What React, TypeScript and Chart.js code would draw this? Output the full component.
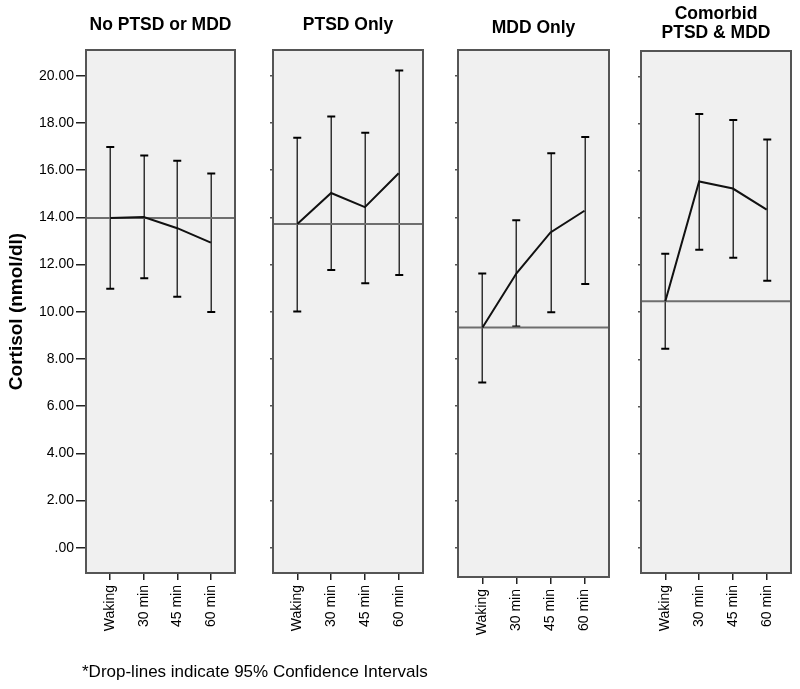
import React, { useEffect, useRef } from 'react';
import { Chart, registerables } from 'chart.js';

Chart.register(...registerables);

// ---------- data ----------
const timepoints = ['Waking', '30 min', '45 min', '60 min'];
const groupTitles = [['No PTSD or MDD'], ['PTSD Only'], ['MDD Only'], ['Comorbid', 'PTSD & MDD']];
const yTickValues = [0, 2, 4, 6, 8, 10, 12, 14, 16, 18, 20];
const yAxisTitle = 'Cortisol (nmol/dl)';
const footnote = '*Drop-lines indicate 95% Confidence Intervals';

const noneMean = [13.97, 14.01, 13.54, 12.93];
const noneLower = [10.97, 11.42, 10.64, 9.99];
const noneUpper = [16.98, 16.62, 16.4, 15.86];

const ptsdMean = [13.72, 15.03, 14.43, 15.87];
const ptsdLower = [10.01, 11.77, 11.21, 11.56];
const ptsdUpper = [17.37, 18.27, 17.58, 20.22];

const mddMean = [9.33, 11.63, 13.36, 14.28];
const mddLower = [7.0, 9.37, 9.98, 11.18];
const mddUpper = [11.62, 13.88, 16.72, 17.4];

const comMean = [10.47, 15.55, 15.25, 14.36];
const comLower = [8.45, 12.65, 12.31, 11.34];
const comUpper = [12.48, 18.42, 18.16, 17.33];

// ---------- layout ----------
const FONT = '"Liberation Sans", Arial, Helvetica, sans-serif';
const H = 689;
const X_MIN = -0.72;
const X_MAX = 3.72;
const Y_MAX = 21.09;

const panelLayouts = [
  { canvasLeft: 0, sideWidth: 86, plotWidth: 149, plotBottom: 573, yMin: -1.07, titlePad: { top: 14.5, bottom: 14.5 }, lineHeight: 21 },
  { canvasLeft: 269, sideWidth: 4, plotWidth: 150, plotBottom: 573, yMin: -1.07, titlePad: { top: 15, bottom: 14 }, lineHeight: 21 },
  { canvasLeft: 454, sideWidth: 4, plotWidth: 151, plotBottom: 577, yMin: -1.24, titlePad: { top: 17.5, bottom: 11.5 }, lineHeight: 21 },
  { canvasLeft: 637, sideWidth: 4, plotWidth: 150, plotBottom: 573, yMin: -1.07, titlePad: { top: 5.25, bottom: 8.75 }, lineHeight: 18.5 },
];

type PanelProps = { index: number; means: number[]; lower: number[]; upper: number[] };

function Panel({ index, means, lower, upper }: PanelProps) {
  const ref = useRef<HTMLCanvasElement>(null);
  const L = panelLayouts[index];
  const W = L.plotWidth + 2 * L.sideWidth;

  useEffect(() => {
    const canvas = ref.current!;
    const isFirst = index === 0;

    const panelBox = {
      id: 'panelBox',
      beforeDraw(chart: any) {
        const { ctx, chartArea: a } = chart;
        ctx.save();
        ctx.fillStyle = '#f0f0f0';
        ctx.fillRect(a.left, a.top, a.right - a.left, a.bottom - a.top);
        ctx.restore();
      },
      afterDraw(chart: any) {
        const { ctx, chartArea: a } = chart;
        ctx.save();
        ctx.strokeStyle = '#555555';
        ctx.lineWidth = 2;
        ctx.strokeRect(a.left, a.top, a.right - a.left, a.bottom - a.top);
        ctx.restore();
      },
    };

    const errorBars = {
      id: 'errorBars',
      beforeDatasetsDraw(chart: any) {
        const { ctx, scales } = chart;
        const x = scales.x;
        const y = scales.y;
        ctx.save();
        for (let i = 0; i < means.length; i++) {
          const px = Math.round(x.getPixelForValue(i)) + 0.25;
          const pTop = y.getPixelForValue(upper[i]);
          const pBot = y.getPixelForValue(lower[i]);
          ctx.strokeStyle = '#333333';
          ctx.lineWidth = 1.5;
          ctx.beginPath();
          ctx.moveTo(px, pTop);
          ctx.lineTo(px, pBot);
          ctx.stroke();
          ctx.strokeStyle = '#000000';
          ctx.lineWidth = 2;
          ctx.beginPath();
          ctx.moveTo(px - 4, pTop);
          ctx.lineTo(px + 4, pTop);
          ctx.moveTo(px - 4, pBot);
          ctx.lineTo(px + 4, pBot);
          ctx.stroke();
        }
        ctx.restore();
      },
    };

    const chart = new Chart(canvas, {
      type: 'line',
      data: {
        datasets: [
          {
            data: means.map((v, i) => ({ x: i, y: v })),
            borderColor: '#111111',
            borderWidth: 2,
            pointRadius: 0,
            tension: 0,
            fill: false,
          },
          {
            data: [
              { x: X_MIN, y: means[0] },
              { x: X_MAX, y: means[0] },
            ],
            borderColor: '#6e6e6e',
            borderWidth: 2,
            pointRadius: 0,
            fill: false,
          },
        ],
      },
      options: {
        animation: false,
        responsive: false,
        devicePixelRatio: 1,
        layout: { padding: 0 },
        plugins: {
          legend: { display: false },
          tooltip: { enabled: false },
          title: {
            display: true,
            text: groupTitles[index],
            color: '#000000',
            font: { family: FONT, size: 17.5, weight: 'bold', lineHeight: L.lineHeight / 17.5 },
            padding: L.titlePad,
          },
        },
        scales: {
          x: {
            type: 'linear',
            position: 'bottom',
            min: X_MIN,
            max: X_MAX,
            bounds: 'data',
            afterBuildTicks: (s: any) => {
              s.ticks = timepoints.map((_, i) => ({ value: i }));
            },
            afterFit: (s: any) => {
              s.height = H - L.plotBottom;
            },
            ticks: {
              callback: (v: any) => timepoints[v],
              autoSkip: false,
              minRotation: 90,
              maxRotation: 90,
              color: '#000000',
              font: { family: FONT, size: 14 },
              padding: 5,
            },
            grid: { drawOnChartArea: false, tickLength: 7, color: '#222222', lineWidth: 1.5 },
            border: { display: false },
          },
          y: {
            type: 'linear',
            position: 'left',
            min: L.yMin,
            max: Y_MAX,
            bounds: 'data',
            afterBuildTicks: (s: any) => {
              s.ticks = yTickValues.map((v) => ({ value: v }));
            },
            afterFit: (s: any) => {
              s.width = L.sideWidth;
            },
            ticks: {
              display: isFirst,
              callback: (v: any) => (v === 0 ? '.00' : Number(v).toFixed(2)),
              color: '#000000',
              font: { family: FONT, size: 14 },
              padding: 2,
            },
            grid: {
              drawOnChartArea: false,
              tickLength: isFirst ? 10 : 3,
              color: isFirst ? '#222222' : '#555555',
              lineWidth: 1.5,
            },
            border: { display: false },
            title: {
              display: isFirst,
              text: yAxisTitle,
              color: '#000000',
              font: { family: FONT, size: 19, weight: 'bold' },
              padding: { top: 5.6, bottom: 0 },
            },
          },
          yPad: {
            type: 'linear',
            axis: 'y',
            position: 'right',
            display: true,
            ticks: { display: false },
            grid: { display: false },
            border: { display: false },
            afterFit: (s: any) => {
              s.width = L.sideWidth;
            },
          },
        },
      } as any,
      plugins: [panelBox, errorBars],
    });

    return () => chart.destroy();
  }, []);

  return (
    <canvas
      ref={ref}
      width={W}
      height={H}
      style={{ position: 'absolute', left: L.canvasLeft, top: 0, width: W, height: H, display: 'block' }}
    />
  );
}

export default function App() {
  return (
    <div style={{ position: 'absolute', left: 0, top: 0, width: 800, height: H, background: '#ffffff', overflow: 'hidden' }}>
      <Panel index={0} means={noneMean} lower={noneLower} upper={noneUpper} />
      <Panel index={1} means={ptsdMean} lower={ptsdLower} upper={ptsdUpper} />
      <Panel index={2} means={mddMean} lower={mddLower} upper={mddUpper} />
      <Panel index={3} means={comMean} lower={comLower} upper={comUpper} />
      <div
        style={{
          position: 'absolute',
          left: 82,
          top: 661.5,
          font: `17px ${FONT}`,
          color: '#000000',
          whiteSpace: 'nowrap',
        }}
      >
        {footnote}
      </div>
    </div>
  );
}
